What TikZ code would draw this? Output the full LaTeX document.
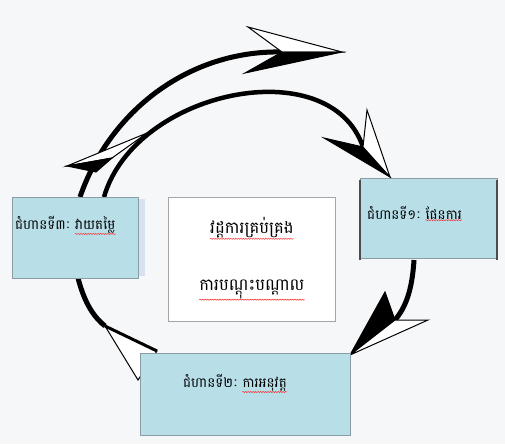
\documentclass[tikz,border=0pt]{standalone}
\usepackage{fontspec}
\newfontfamily\khmer[Script=Khmer]{Battambang}
\usetikzlibrary{decorations.pathmorphing}
\definecolor{bg}{HTML}{F6F7F9}
\definecolor{boxblue}{HTML}{B8DEE8}
\definecolor{boxline}{HTML}{8C9CA4}
\definecolor{strip}{HTML}{D6E2F2}
\tikzset{
  stepbox/.style={draw=boxline, fill=boxblue, line width=0.8pt, inner sep=0pt},
  centerbox/.style={draw=black!35, fill=white, line width=0.8pt, inner sep=0pt},
  lbl/.style={font=\khmer\fontsize{13.5}{15}\selectfont, inner sep=0pt, text=black},
  clbl/.style={font=\khmer\fontsize{16.5}{18}\selectfont, inner sep=0pt, text=black},
  arcline/.style={line width=5pt, line cap=butt},
  headw/.style={fill=white, draw=black, line width=1pt, line join=miter},
  headb/.style={fill=black, draw=black, line width=1pt, line join=miter},
  squig/.style={red!80, line width=0.5pt, decorate, decoration={snake, amplitude=0.6pt, segment length=2.5pt}}
}
\begin{document}
\begin{tikzpicture}[x=1pt,y=-1pt]
\fill[bg] (0,0) rectangle (505,444);
\useasboundingbox (0,0) rectangle (505,444);

% named arrow coordinates
\coordinate (aS) at (80,197);
\coordinate (aN) at (282,52);
\coordinate (aT) at (342,52);
\coordinate (bS) at (104,197);
\coordinate (bN) at (363,147);
\coordinate (bT) at (390,177);
\coordinate (dS) at (414,260);
\coordinate (dN) at (395,320);
\coordinate (dT) at (350,355);
\coordinate (eS) at (78,278);
\coordinate (eN) at (105,326);

% arrow A (outer top)
\draw[arcline] (aS) .. controls (110,110) and (190,50) .. (aN);
\filldraw[headw] (aT) -- (248,27) -- (aN) -- cycle;
\filldraw[headb] (aT) -- (aN) -- (245,73) -- cycle;

% arrow B (inner top)
\draw[arcline, line width=4.5pt] (bS) .. controls (135,90) and (330,50) .. (bN);
\filldraw[headb] (bT) -- (324,138) -- (bN) -- cycle;
\filldraw[headw] (bT) -- (bN) -- (367,110) -- cycle;

% left head C
\filldraw[headw] (67,166) -- (147,133) -- (112,158) -- cycle;
\filldraw[headb] (67,166) -- (112,158) -- (96,172) -- cycle;

% arrow D (right to bottom)
\draw[arcline] (dS) .. controls (412,292) and (405,308) .. (dN);
\filldraw[headb] (dT) -- (385,292) -- (dN) -- cycle;
\filldraw[headw] (dT) -- (dN) -- (428,320) -- cycle;

% arrow E (bottom to left)
\draw[arcline] (eS) .. controls (85,305) and (95,318) .. (eN);
\filldraw[headw] (eN) -- (157,351) -- (138,380) -- cycle;
\draw[line width=3pt] (eN) -- (157,351);

% boxes
\fill[strip] (138,199) rectangle (145,276);
\node[stepbox, minimum width=126pt, minimum height=81pt] (s3) at (75,237.5) {};
\node[stepbox, minimum width=137pt, minimum height=80pt] (s1) at (428.5,218) {};
\draw[black!70, line width=2pt] (s1.north west) ++(0,2) -- ([yshift=-2pt]s1.south west);
\draw[black!70, line width=2pt] (s1.north east) ++(0,2) -- ([yshift=-2pt]s1.south east);
\node[stepbox, minimum width=210pt, minimum height=82pt] (s2) at (245,394) {};
\node[centerbox, minimum width=167pt, minimum height=124pt] (c) at (251.5,259) {};

% labels
\node[clbl, anchor=base] (c1) at (252,233) {វដ្តការគ្រប់គ្រង};
\node[clbl, anchor=base] (c2) at (252,290) {ការបណ្តុះបណ្តាល};
\node[lbl, anchor=base west] (t3a) at (15,229) {ជំហានទី៣ៈ};
\node[lbl, anchor=base west] (t3b) at ([xshift=4pt]t3a.base east) {វាយតម្លៃ};
\node[lbl, anchor=base west] (t1a) at (367,219) {ជំហានទី១ៈ};
\node[lbl, anchor=base west] (t1b) at ([xshift=4pt]t1a.base east) {ផែនការ};
\node[lbl, anchor=base west] (t2a) at (183,387) {ជំហានទី២ៈ};
\node[lbl, anchor=base west] (t2b) at ([xshift=4pt]t2a.base east) {ការអនុវត្ត};

% spell-check squiggles
\draw[squig] ([yshift=-1pt]c1.south west) -- ([yshift=-1pt]c1.south east);
\draw[squig] ([yshift=-1pt]c2.south west) -- ([yshift=-1pt]c2.south east);
\draw[squig] ([yshift=-1pt]t3b.south west) -- ([yshift=-1pt]t3b.south east);
\draw[squig] ([yshift=-1pt]t1b.south west) -- ([yshift=-1pt]t1b.south east);
\draw[squig] ([yshift=-1pt]t2b.south west) -- ([yshift=-1pt]t2b.south east);
\end{tikzpicture}
\end{document}
